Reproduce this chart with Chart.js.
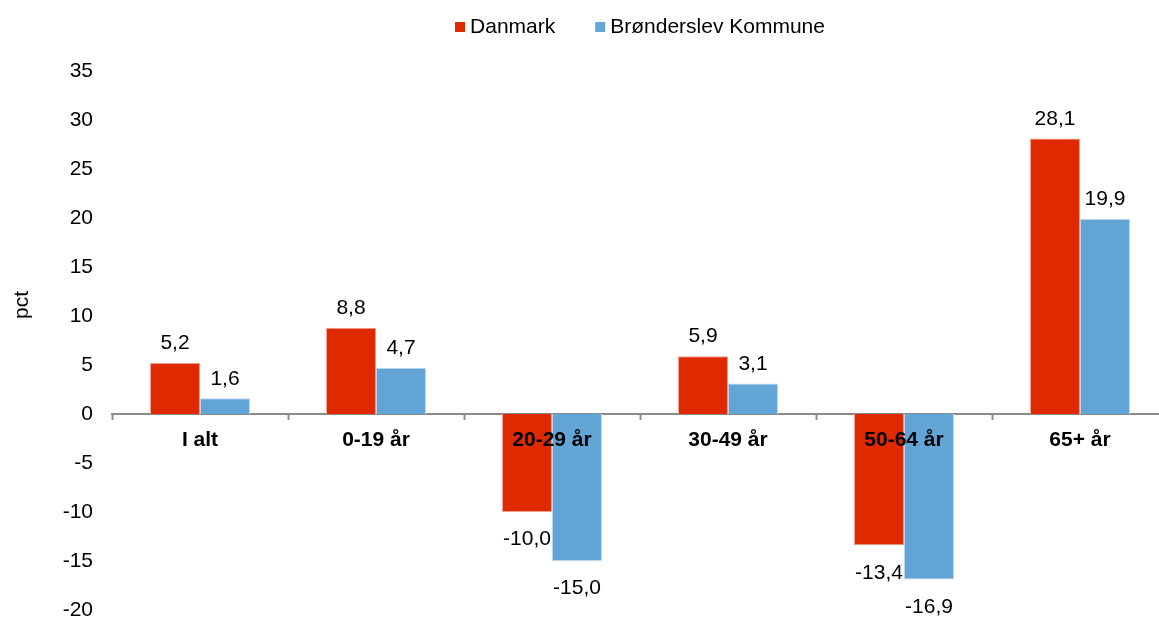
<!DOCTYPE html>
<html lang="da">
<head>
  <meta charset="UTF-8" />
  <title>Befolkningsudvikling</title>
  <script src="https://cdn.jsdelivr.net/npm/chart.js"></script>
  <style>
    body {
      margin: 0;
      background: #ffffff;
      overflow: hidden;
    }
    .wrap {
      width: 1280px;
      height: 619px;
    }
  </style>
</head>
<body>
  <div class="wrap">
    <canvas id="graf" width="1280" height="619"></canvas>
  </div>

  <script>
    // data
    const kategorier = ['I alt', '0-19 år', '20-29 år', '30-49 år', '50-64 år', '65+ år'];
    const danmark = [5.2, 8.8, -10.0, 5.9, -13.4, 28.1];
    const broenderslev = [1.6, 4.7, -15.0, 3.1, -16.9, 19.9];
    const serieNavne = ['Danmark', 'Brønderslev Kommune'];
    const farver = ['#df2a00', '#63a5d7'];
    const kantFarver = ['#f0a090', '#b7d6ee'];
    const yMin = -20;
    const yMax = 35;
    const yStep = 5;
    const enhed = 'pct';

    const skrift = '"Liberation Sans", Arial, sans-serif';
    const fmt = v => v.toFixed(1).replace('.', ',');

    // tal over/under søjlerne, akse-titel og forklaring
    const ekstraTekst = {
      id: 'ekstraTekst',
      afterDatasetsDraw(chart) {
        const ctx = chart.ctx;
        ctx.save();
        ctx.font = '21px ' + skrift;
        ctx.fillStyle = '#000000';
        ctx.textAlign = 'center';
        chart.data.datasets.forEach((ds, i) => {
          chart.getDatasetMeta(i).data.forEach((bar, j) => {
            const v = ds.data[j];
            if (v >= 0) {
              ctx.textBaseline = 'bottom';
              ctx.fillText(fmt(v), bar.x, bar.y - 9);
            } else {
              ctx.textBaseline = 'top';
              ctx.fillText(fmt(v), bar.x, bar.y + 17);
            }
          });
        });

        // forklaring øverst, centreret over plotområdet
        const ds = chart.data.datasets;
        const bredder = ds.map(d => 15 + ctx.measureText(d.label).width);
        const total = bredder.reduce((a, b) => a + b, 0) + 40 * (ds.length - 1);
        const area = chart.chartArea;
        let x = (area.left + area.right) / 2 - total / 2;
        const y = 27;
        ctx.textAlign = 'left';
        ctx.textBaseline = 'middle';
        ds.forEach((d, i) => {
          ctx.fillStyle = d.backgroundColor;
          ctx.fillRect(x, y - 5, 10, 10);
          ctx.fillStyle = '#000000';
          ctx.fillText(d.label, x + 15, y);
          x += bredder[i] + 40;
        });

        ctx.translate(22, 305);
        ctx.rotate(-Math.PI / 2);
        ctx.textAlign = 'center';
        ctx.fillText(enhed, 0, 0);
        ctx.restore();
      }
    };

    new Chart(document.getElementById('graf'), {
      type: 'bar',
      data: {
        labels: kategorier,
        datasets: [
          {
            label: serieNavne[0],
            data: danmark,
            backgroundColor: farver[0],
            borderColor: kantFarver[0],
            borderWidth: 1,
            categoryPercentage: 0.568,
            barPercentage: 1
          },
          {
            label: serieNavne[1],
            data: broenderslev,
            backgroundColor: farver[1],
            borderColor: kantFarver[1],
            borderWidth: 1,
            categoryPercentage: 0.568,
            barPercentage: 1
          }
        ]
      },
      options: {
        responsive: false,
        animation: false,
        layout: { padding: { top: 71, bottom: 9 } },
        plugins: {
          legend: { display: false },
          tooltip: { enabled: false }
        },
        scales: {
          x: {
            position: { y: 0 },
            afterFit: s => { s.height = 0; s.paddingLeft = 0; s.paddingRight = 0; },
            grid: {
              offset: true,
              drawOnChartArea: false,
              tickLength: 5,
              tickWidth: 2,
              tickColor: '#8a8a8a'
            },
            border: { color: '#8a8a8a', width: 2 },
            ticks: {
              z: 1,
              autoSkip: false,
              color: '#000000',
              padding: 9,
              font: { family: skrift, size: 21, weight: 'bold' }
            }
          },
          y: {
            min: yMin,
            max: yMax,
            afterFit: s => { s.width = 112; s.paddingTop = 0; s.paddingBottom = 0; },
            grid: { display: false, drawTicks: false },
            border: { display: false },
            ticks: {
              stepSize: yStep,
              padding: 19,
              color: '#000000',
              font: { family: skrift, size: 21 }
            }
          },
          hoejre: {
            type: 'linear',
            position: 'right',
            afterFit: s => { s.width = 112; s.paddingTop = 0; s.paddingBottom = 0; },
            grid: { display: false, drawTicks: false },
            border: { display: false },
            ticks: { display: false }
          }
        }
      },
      plugins: [ekstraTekst]
    });
  </script>
</body>
</html>
